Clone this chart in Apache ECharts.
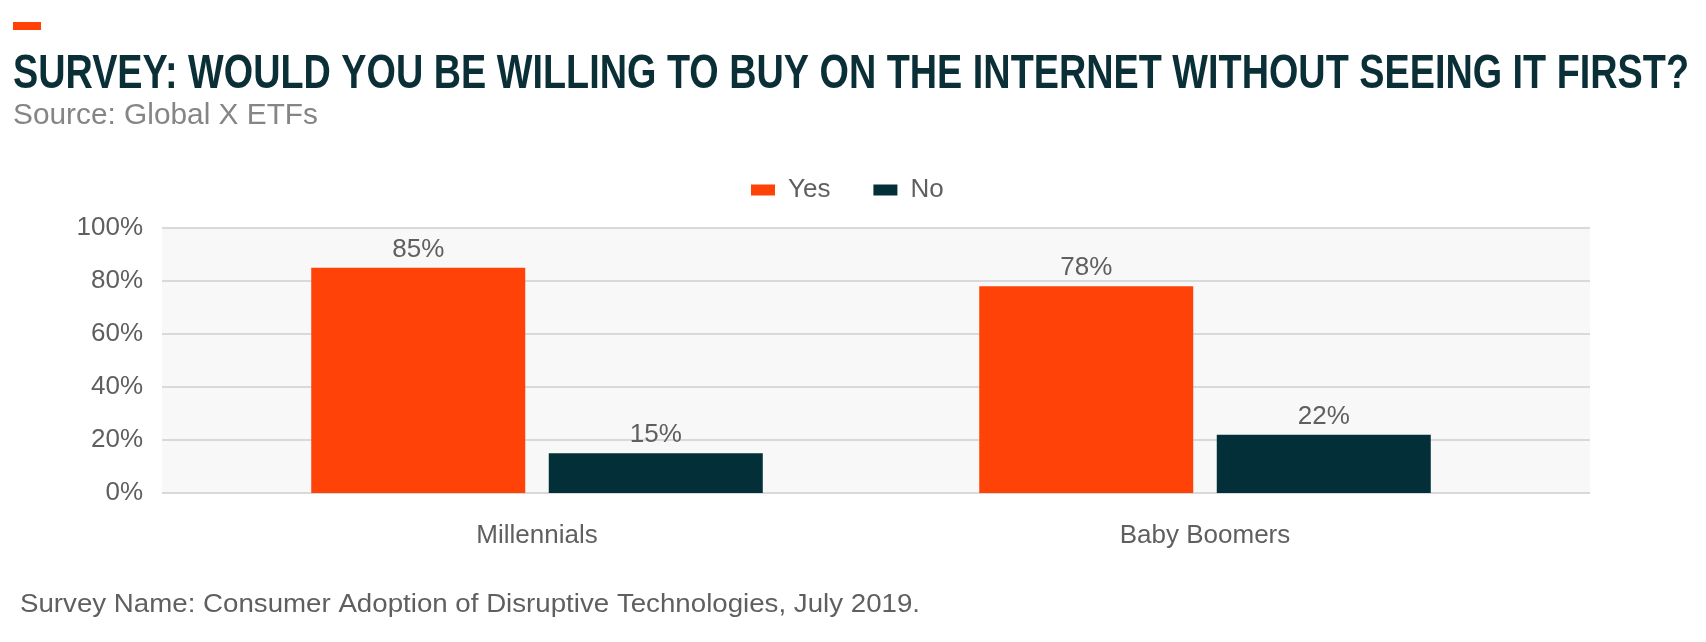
<!DOCTYPE html>
<html>
<head>
<meta charset="utf-8">
<script src="https://cdn.jsdelivr.net/npm/echarts@6/dist/echarts.min.js"></script>
<style>
html,body{margin:0;padding:0;background:#fff;}
#chart{width:1706px;height:642px;}
</style>
</head>
<body>
<div id="chart"></div>
<script>
// ---- data ----
const categories = ['Millennials', 'Baby Boomers'];
const seriesNames = ['Yes', 'No'];
const yesValues = [85, 78];
const noValues = [15, 22];
const yTicks = [0, 20, 40, 60, 80, 100];

const titleText = 'SURVEY: WOULD YOU BE WILLING TO BUY ON THE INTERNET WITHOUT SEEING IT FIRST?';
const subtitleText = 'Source: Global X ETFs';
const footerText = 'Survey Name: Consumer Adoption of Disruptive Technologies, July 2019.';

// ---- styles ----
const ORANGE = '#ff4208';
const TEAL = '#022f38';
const TITLE_COLOR = '#0a2f37';
const LABEL = '#5f5f5f';
const FONT = '"Liberation Sans", Arial, sans-serif';

function fitScale(text, font, target) {
  const c = document.createElement('canvas').getContext('2d');
  c.font = font;
  const w = c.measureText(text).width;
  return w > 0 ? target / w : 1;
}

const titleFont = 'bold 48px ' + FONT;
const subFont = '29px ' + FONT;
const footFont = '26px ' + FONT;

const chart = echarts.init(document.getElementById('chart'), null, {renderer: 'canvas'});

const option = {
  backgroundColor: '#ffffff',
  animation: false,
  legend: {
    data: seriesNames,
    left: 751,
    top: 175,
    padding: 0,
    icon: 'rect',
    itemWidth: 24,
    itemHeight: 11,
    itemGap: 43,
    textStyle: {fontSize: 26, color: LABEL, fontFamily: FONT, padding: [0, 0, 0, 8], lineHeight: 30}
  },
  grid: [
    {left: 162, width: 1428, top: 228, height: 265, show: true, backgroundColor: '#f8f8f8', borderWidth: 0},
    {left: 203, width: 1336, top: 228, height: 265}
  ],
  xAxis: [
    {gridIndex: 0, type: 'category', data: ['_'], show: false},
    {
      gridIndex: 1, type: 'category', data: categories,
      axisLine: {show: false}, axisTick: {show: false},
      axisLabel: {fontSize: 26, color: LABEL, fontFamily: FONT, margin: 30}
    }
  ],
  yAxis: [
    {
      gridIndex: 0, type: 'value', min: yTicks[0], max: yTicks[yTicks.length - 1], interval: 20,
      axisLine: {show: false}, axisTick: {show: false},
      axisLabel: {fontSize: 26, color: LABEL, fontFamily: FONT, margin: 19, formatter: '{value}%'},
      splitLine: {show: true, lineStyle: {color: '#d9d9d9', width: 2}}
    },
    {gridIndex: 1, type: 'value', min: 0, max: 100, interval: 20, show: false, splitLine: {show: false}}
  ],
  series: [
    {
      name: seriesNames[0], type: 'bar', xAxisIndex: 1, yAxisIndex: 1,
      data: yesValues, barWidth: 214, barGap: '11%',
      itemStyle: {color: ORANGE},
      label: {show: true, position: 'top', distance: 5, formatter: '{c}%', fontSize: 26, color: LABEL, fontFamily: FONT}
    },
    {
      name: seriesNames[1], type: 'bar', xAxisIndex: 1, yAxisIndex: 1,
      data: noValues, barWidth: 214, barGap: '11%',
      itemStyle: {color: TEAL},
      label: {show: true, position: 'top', distance: 5, formatter: '{c}%', fontSize: 26, color: LABEL, fontFamily: FONT}
    }
  ],
  graphic: [
    {type: 'rect', left: 13, top: 22, shape: {width: 28, height: 8}, style: {fill: ORANGE}},
    {
      type: 'text', x: 13, y: 75, scaleX: fitScale(titleText, titleFont, 1676),
      style: {text: titleText, font: titleFont, fill: TITLE_COLOR, textVerticalAlign: 'middle', verticalAlign: 'middle'}
    },
    {
      type: 'text', x: 13, y: 116, scaleX: fitScale(subtitleText, subFont, 305),
      style: {text: subtitleText, font: subFont, fill: '#858585', textVerticalAlign: 'middle', verticalAlign: 'middle'}
    },
    {
      type: 'text', x: 20, y: 605, scaleX: fitScale(footerText, footFont, 900),
      style: {text: footerText, font: footFont, fill: LABEL, textVerticalAlign: 'middle', verticalAlign: 'middle'}
    }
  ]
};
chart.setOption(option);
</script>
</body>
</html>
